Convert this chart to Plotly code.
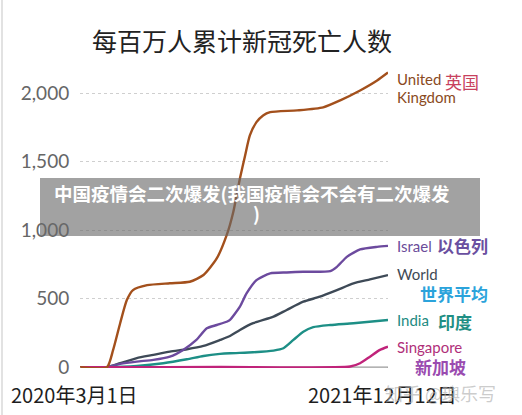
import plotly.graph_objects as go

# ---------------- data ----------------
uk_dates = ["2020-03-01", "2020-04-27", "2020-05-10", "2020-05-25", "2020-06-08", "2020-06-21",
            "2020-07-21", "2020-09-07", "2020-10-19", "2020-11-17", "2020-12-15", "2021-01-05",
            "2021-01-19", "2021-02-02", "2021-02-13", "2021-02-23", "2021-03-09", "2021-03-23",
            "2021-04-07", "2021-06-03", "2021-07-28", "2021-09-02", "2021-10-14", "2021-11-19",
            "2021-12-12"]
uk_vals = [0, 0, 126, 323, 490, 563, 599, 613, 624, 673, 794, 964, 1134, 1378, 1547, 1693,
           1790, 1839, 1863, 1876, 1898, 1949, 2021, 2094, 2152]

israel_dates = ["2020-03-01", "2020-04-26", "2020-05-25", "2020-06-29", "2020-08-03", "2020-09-07",
                "2020-10-05", "2020-11-02", "2020-11-24", "2020-12-15", "2021-01-05", "2021-01-12",
                "2021-02-02", "2021-02-16", "2021-03-09", "2021-04-07", "2021-05-12", "2021-06-16",
                "2021-08-12", "2021-08-26", "2021-09-16", "2021-10-14", "2021-11-19", "2021-12-12"]
israel_vals = [0, 0, 24, 41, 53, 77, 126, 199, 284, 308, 332, 345, 442, 539, 636, 685, 692, 697,
               702, 733, 806, 860, 879, 886]

world_dates = ["2020-03-01", "2020-04-26", "2020-05-25", "2020-06-29", "2020-08-03", "2020-09-07",
               "2020-10-13", "2020-11-17", "2020-12-22", "2021-01-12", "2021-02-02", "2021-03-02",
               "2021-04-14", "2021-05-12", "2021-06-16", "2021-07-21", "2021-08-26", "2021-09-30",
               "2021-11-04", "2021-12-12"]
world_vals = [0, 0, 29, 66, 90, 114, 131, 155, 199, 228, 272, 321, 369, 418, 478, 515, 563, 612,
              641, 673]

india_dates = ["2020-03-01", "2020-04-26", "2020-06-29", "2020-08-24", "2020-10-13", "2020-11-17",
               "2020-12-22", "2021-01-12", "2021-03-02", "2021-04-14", "2021-05-05", "2021-05-26",
               "2021-06-16", "2021-07-07", "2021-08-12", "2021-09-30", "2021-12-12"]
india_vals = [0, 0, 9, 29, 58, 82, 97, 102, 109, 121, 138, 199, 259, 292, 308, 321, 345]

singapore_dates = ["2020-03-01", "2020-04-26", "2020-12-22", "2021-09-23", "2021-10-14",
                   "2021-11-04", "2021-11-25", "2021-12-12"]
singapore_vals = [0, 0, 1, 5, 29, 77, 126, 150]

y_ticks = [0, 500, 1000, 1500, 2000]
y_tick_text = ["0", "500", "1,000", "1,500", "2,000"]
x_start, x_end = "2020-03-01", "2021-12-12"
x_tick_text = ["2020年3月1日", "2021年12月12日"]

title_text = "每百万人累计新冠死亡人数"
banner_line1 = "中国疫情会二次爆发(我国疫情会不会有二次爆发"
banner_line2 = ")"
watermark = "知乎 @璵乐写"

# ---------------- figure ----------------
W, H = 522, 415
L, R, T, B = 80, 134, 66, 47
PW, PH = W - L - R, H - T - B


def px(x):
    return (x - L) / PW


def py(y):
    return (H - B - y) / PH


fig = go.Figure()

series = [
    (world_dates, world_vals, "#3e4a57"),
    (israel_dates, israel_vals, "#6c4a9e"),
    (india_dates, india_vals, "#1d8f86"),
    (singapore_dates, singapore_vals, "#c0237a"),
    (uk_dates, uk_vals, "#a3501c"),
]
for xs, ys, c in series:
    fig.add_trace(go.Scatter(x=xs, y=ys, mode="lines",
                             line=dict(color=c, width=2.4, shape="spline", smoothing=0.6),
                             hoverinfo="skip", showlegend=False))

shapes = []
# baseline axis
shapes.append(dict(type="line", xref="x", yref="y", x0=x_start, x1=x_end, y0=0, y1=0,
                   line=dict(color="#9a9a9a", width=1.2), layer="below"))
for xv in [x_start, x_end]:
    shapes.append(dict(type="line", xref="x", yref="y", ysizemode="pixel", yanchor=0,
                       x0=xv, x1=xv, y0=0, y1=-7, line=dict(color="#9a9a9a", width=1.2)))
# left border of the image
shapes.append(dict(type="line", xref="paper", yref="paper", x0=px(2), x1=px(2), y0=py(0), y1=py(415),
                   line=dict(color="#e2e2e2", width=2)))
# grey banner
shapes.append(dict(type="rect", xref="paper", yref="paper", x0=px(40), x1=px(480), y0=py(236), y1=py(178),
                   fillcolor="rgba(105,105,105,0.62)", line=dict(width=0), layer="above"))

ann = []
ann.append(dict(text=title_text, x=px(242), y=py(40), xref="paper", yref="paper", showarrow=False,
                xanchor="center", yanchor="middle",
                font=dict(family="Noto Sans CJK SC", size=25, color="#222222")))
# x labels
for xv, t in zip([x_start, x_end], x_tick_text):
    ann.append(dict(text=t, x=xv, y=py(394), xref="x", yref="paper", xshift=-6, showarrow=False,
                    xanchor="center", yanchor="middle",
                    font=dict(family="Noto Sans CJK SC", size=20, color="#1e1e1e")))

labels = [
    ("United", 395, 79, "#8a4a22", 15, False),
    ("Kingdom", 395, 97, "#8a4a22", 15, False),
    ("英国", 443, 81, "#c8415e", 17, False),
    ("Israel", 395, 246, "#6b4c9a", 15, False),
    ("以色列", 435, 245, "#6a4fa0", 17, True),
    ("World", 395, 274, "#3f4a55", 15, False),
    ("世界平均", 418, 293, "#2ba3db", 17, True),
    ("India", 395, 320, "#1e8a82", 15, False),
    ("印度", 436, 321, "#1f8f84", 17, True),
    ("Singapore", 395, 347, "#b02f7a", 15, False),
    ("新加坡", 413, 366, "#9a4bb0", 17, True),
]
for t, x, y, c, s, bold in labels:
    fam = "Noto Sans CJK SC" if not t.isascii() else "Lato"
    ann.append(dict(text=("<b>%s</b>" % t) if bold else t, x=px(x), y=py(y), xref="paper", yref="paper",
                    showarrow=False, xanchor="left", yanchor="middle",
                    font=dict(family=fam, size=s, color=c)))

ann.append(dict(text="<b>%s</b>" % banner_line1, x=px(252), y=py(193), xref="paper", yref="paper",
                showarrow=False, xanchor="center", yanchor="middle",
                font=dict(family="Noto Sans CJK SC", size=18.5, color="white")))
ann.append(dict(text="<b>%s</b>" % banner_line2, x=px(256), y=py(213), xref="paper", yref="paper",
                showarrow=False, xanchor="center", yanchor="middle",
                font=dict(family="Noto Sans CJK SC", size=18.5, color="white")))
ann.append(dict(text=watermark, x=px(383), y=py(393), xref="paper", yref="paper",
                showarrow=False, xanchor="left", yanchor="middle",
                font=dict(family="Noto Sans CJK SC", size=18, color="rgba(170,170,170,0.6)")))

fig.update_layout(
    width=W, height=H,
    margin=dict(l=L, r=R, t=T, b=B, pad=0),
    paper_bgcolor="white", plot_bgcolor="white",
    showlegend=False, hovermode=False,
    shapes=shapes, annotations=ann,
    xaxis=dict(range=[x_start, x_end], showgrid=False, zeroline=False, showline=False,
               showticklabels=False, ticks=""),
    yaxis=dict(range=[-6, 2200], tickvals=y_ticks, ticktext=y_tick_text,
               showgrid=True, gridcolor="#cfcfcf", griddash="dot", gridwidth=1,
               zeroline=False, showline=False, ticks="outside", ticklen=6, tickcolor="rgba(0,0,0,0)",
               tickfont=dict(family="Lato", size=19, color="#666666")),
)

fig.write_html("out.html", config={"displayModeBar": False},
               post_script="document.body.style.margin='0';document.body.style.overflow='hidden';")
